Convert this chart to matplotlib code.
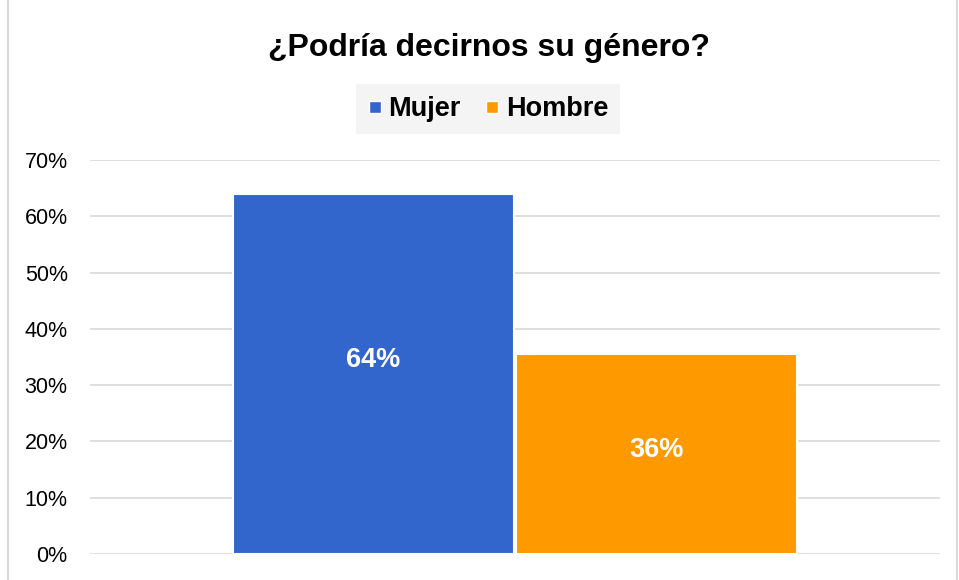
import matplotlib.pyplot as plt
from matplotlib.lines import Line2D
from matplotlib.patches import Rectangle
from matplotlib.ticker import PercentFormatter

plt.rcParams["font.family"] = ["Liberation Sans", "DejaVu Sans"]

categories = ["Mujer", "Hombre"]
values = [0.64, 0.355]
labels = ["64%", "36%"]
colors = ["#3366CC", "#FF9900"]


def main() -> None:
    fig = plt.figure(figsize=(9.59, 5.8), dpi=100)
    ax = fig.add_axes([0.0938, 0.0448, 0.8863, 0.6793])

    x = range(len(categories))
    bars = ax.bar(x, values, width=0.99, color=colors, edgecolor="white",
                  linewidth=1.5, zorder=3)
    for bar, lab in zip(bars, labels):
        ax.text(bar.get_x() + bar.get_width() / 2,
                bar.get_height() * 0.56 - 0.014, lab,
                ha="center", va="center", color="white", fontsize=19.5,
                fontweight="bold", zorder=4)

    ax.set_xlim(-1, 2)
    ax.set_ylim(0, 0.7)
    ax.set_yticks([i / 10 for i in range(8)])
    ax.yaxis.set_major_formatter(PercentFormatter(1.0, decimals=0))
    ax.tick_params(axis="y", length=0, labelsize=15.5, pad=16)
    ax.set_xticks([])
    ax.grid(axis="y", color="#D9D9D9", linewidth=1.2, zorder=0)
    for s in ax.spines.values():
        s.set_visible(False)

    fig.text(0.51, 0.917, "¿Podría decirnos su género?", ha="center",
             va="center", fontsize=23, fontweight="bold")

    handles = [Line2D([], [], marker="s", linestyle="none", markersize=8,
                      markerfacecolor=c, markeredgecolor="white")
               for c in colors]
    leg = fig.legend(handles, categories, loc="center",
                     bbox_to_anchor=(0.509, 0.812), ncol=2, frameon=True,
                     prop={"weight": "bold", "size": 19.5}, handlelength=0.5,
                     handletextpad=0.25, columnspacing=0.9, borderpad=0.45,
                     borderaxespad=0)
    leg.get_frame().set_facecolor("#F2F2F2")
    leg.get_frame().set_edgecolor("none")
    leg.get_frame().set_boxstyle("square", pad=0)

    fig.patches.append(Rectangle((0.008, -0.01), 0.99, 1.02,
                                 transform=fig.transFigure, fill=False,
                                 edgecolor="#D9D9D9", linewidth=1.5))

    plt.savefig("out.png")
    plt.close()


if __name__ == "__main__":
    main()
